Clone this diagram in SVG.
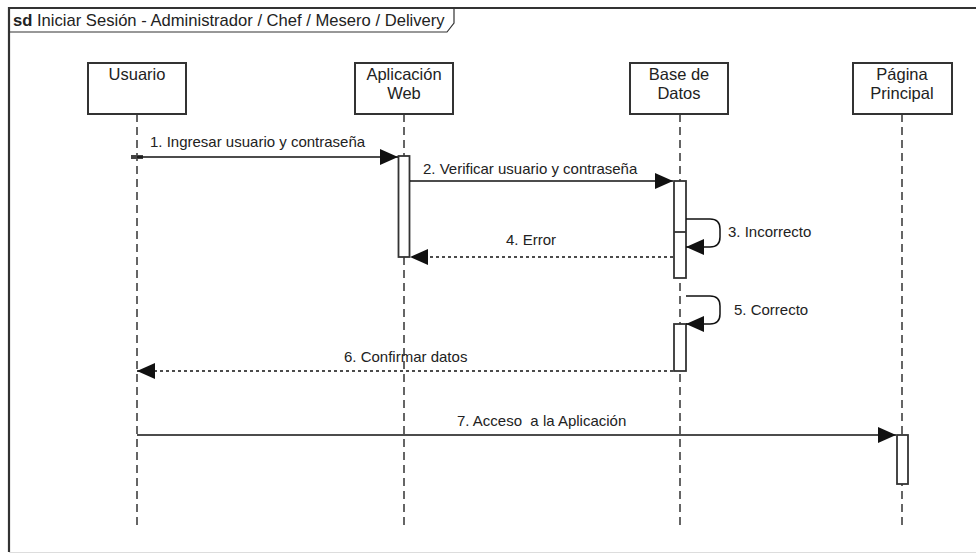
<svg xmlns="http://www.w3.org/2000/svg" width="976" height="554" viewBox="0 0 976 554">
<style>
text{font-family:"Liberation Sans",Arial,sans-serif;fill:#222;white-space:pre}
.box{fill:#fff;stroke:#333;stroke-width:2}
.lbl{font-size:16.5px;text-anchor:middle}
.msg{font-size:15px}
.life{stroke:#333;stroke-width:1.5;stroke-dasharray:8 5;fill:none}
.act{fill:#fff;stroke:#333;stroke-width:1.8}
.call{stroke:#111;stroke-width:1.5;fill:none}
.ret{stroke:#111;stroke-width:1.5;fill:none;stroke-dasharray:3 3}
</style>
<defs>
<marker id="ah" viewBox="0 0 18 16" refX="18" refY="8" markerWidth="18" markerHeight="16" markerUnits="userSpaceOnUse" orient="auto">
<path d="M0,0 L18,8 L0,16 Z" fill="#111"/>
</marker>
</defs>
<rect width="976" height="554" fill="#fff"/>
<g id="frame">
<path d="M9,552 V8 H976" fill="none" stroke="#333" stroke-width="2.2"/>
<path d="M9,552.5 H976" fill="none" stroke="#ddd" stroke-width="1"/>
<path d="M9,32 H447 L454,23 V8" fill="none" stroke="#333" stroke-width="1.2"/>
<text x="13" y="26" style="font-size:16.6px"><tspan font-weight="bold">sd</tspan> Iniciar Sesión - Administrador / Chef / Mesero / Delivery</text>
</g>
<g id="usuario">
<line class="life" x1="137" y1="114" x2="137" y2="528"/>
<rect class="box" x="88" y="63" width="98" height="51"/>
<text class="lbl" x="137" y="80">Usuario</text>
</g>
<g id="aplicacion">
<line class="life" x1="404" y1="114" x2="404" y2="528"/>
<rect class="box" x="355" y="63" width="98" height="51"/>
<text class="lbl" x="404" y="80">Aplicación</text>
<text class="lbl" x="404" y="99">Web</text>
<rect class="act" x="398.5" y="156" width="11" height="101"/>
</g>
<g id="basedatos">
<line class="life" x1="680" y1="114" x2="680" y2="528"/>
<rect class="box" x="630" y="63" width="98" height="51"/>
<text class="lbl" x="679" y="80">Base de</text>
<text class="lbl" x="679" y="99">Datos</text>
<rect class="act" x="674" y="181" width="12" height="97"/>
<line x1="674" y1="232" x2="686" y2="232" stroke="#333" stroke-width="1.8"/>
<rect class="act" x="674" y="324" width="12" height="47"/>
</g>
<g id="pagina">
<line class="life" x1="902" y1="114" x2="902" y2="528"/>
<rect class="box" x="853" y="63" width="99" height="51"/>
<text class="lbl" x="902" y="80">Página</text>
<text class="lbl" x="902" y="99">Principal</text>
<rect class="act" x="897" y="435" width="11" height="49"/>
</g>
<g id="connectors">
<rect x="131" y="155" width="12" height="4" fill="#444"/>
<line class="call" x1="137" y1="157" x2="398" y2="157" marker-end="url(#ah)"/>
<text class="msg" x="150" y="147">1. Ingresar usuario y contraseña</text>
<line class="call" x1="410" y1="181" x2="673" y2="181" marker-end="url(#ah)"/>
<text class="msg" x="423" y="174">2. Verificar usuario y contraseña</text>
<path class="call" d="M686,219 H710 Q720,219 720,229 V237 Q720,247 710,247 H686" marker-end="url(#ah)"/>
<text class="msg" x="728" y="237">3. Incorrecto</text>
<line class="ret" x1="673" y1="257" x2="410" y2="257" marker-end="url(#ah)"/>
<text class="msg" x="506" y="245">4. Error</text>
<path class="call" d="M686,296 H710 Q720,296 720,306 V314 Q720,324 710,324 H686" marker-end="url(#ah)"/>
<text class="msg" x="734" y="315">5. Correcto</text>
<line class="ret" x1="673" y1="371" x2="137" y2="371" marker-end="url(#ah)"/>
<text class="msg" x="344" y="362">6. Confirmar datos</text>
<line class="call" x1="137" y1="435" x2="896" y2="435" marker-end="url(#ah)"/>
<text class="msg" x="457" y="426">7. Acceso  a la Aplicación</text>
</g>
</svg>
